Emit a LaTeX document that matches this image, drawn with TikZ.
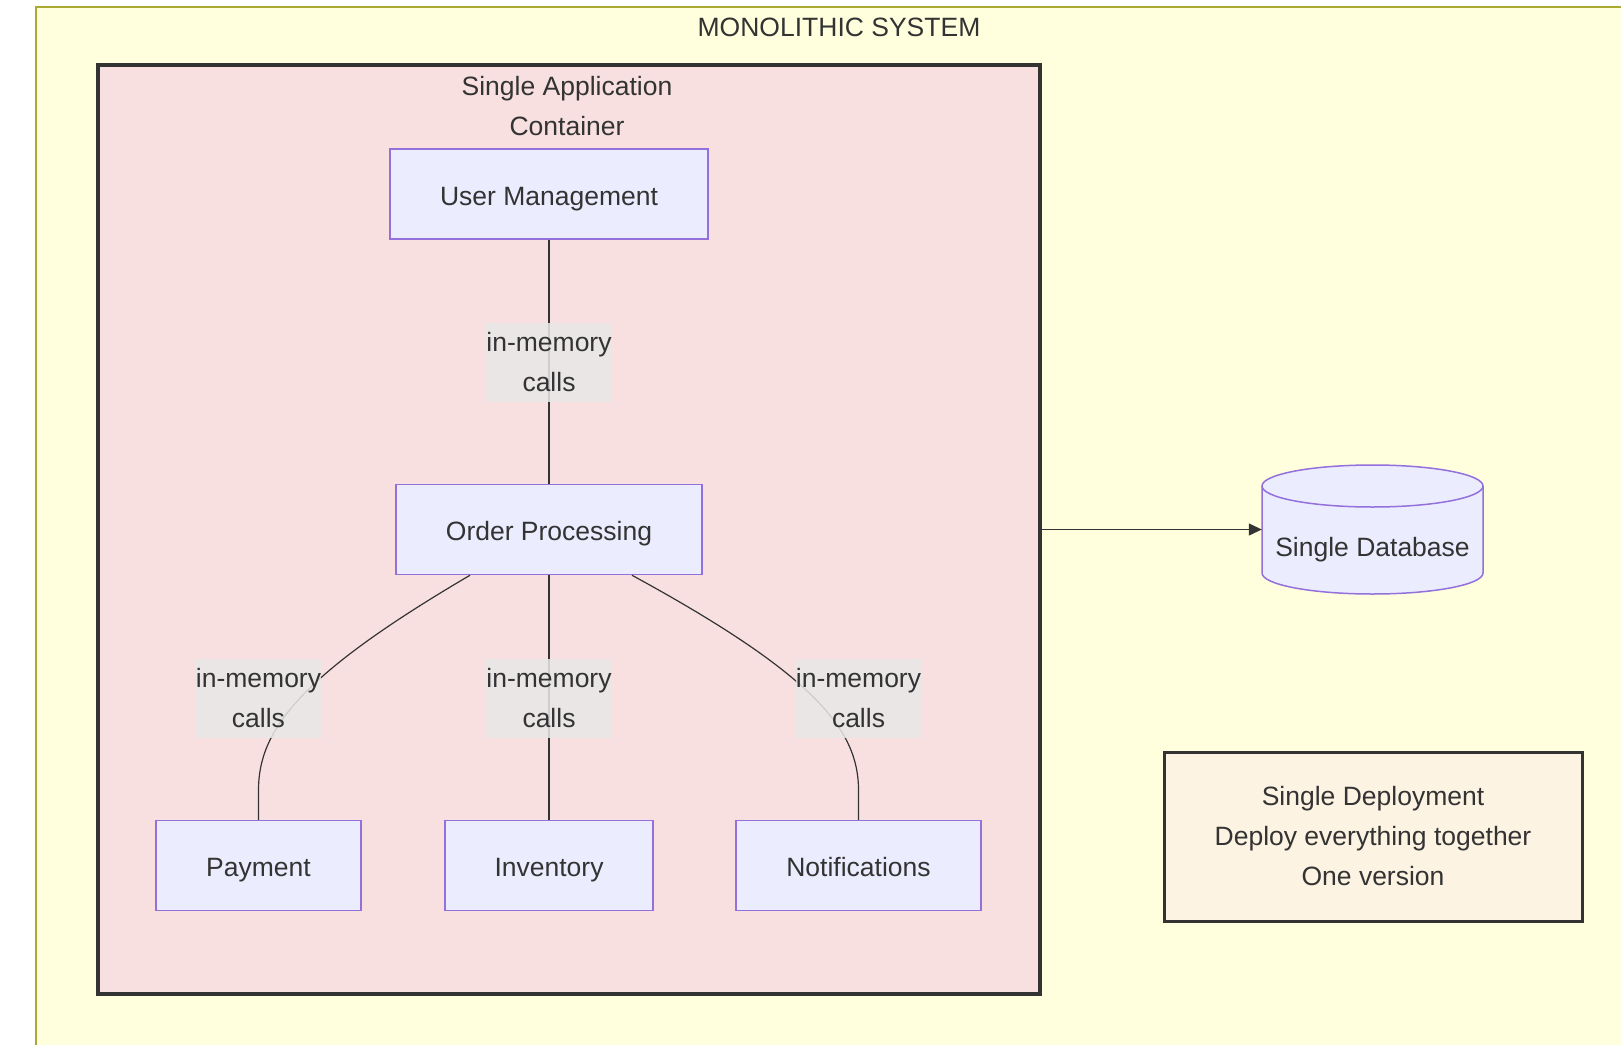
\documentclass[tikz,border=0pt]{standalone}
\usepackage{fontspec}
\setmainfont{Liberation Sans}
\usetikzlibrary{arrows.meta}
\definecolor{clusterfill}{HTML}{FFFFDE}
\definecolor{clusterline}{HTML}{AAAA33}
\definecolor{appfill}{HTML}{F8E0E0}
\definecolor{nodefill}{HTML}{ECECFF}
\definecolor{nodeline}{HTML}{9370DB}
\definecolor{ink}{HTML}{333333}
\definecolor{labelfill}{HTML}{E8E8E8}
\definecolor{notefill}{HTML}{FDF3E2}
\begin{document}
\begin{tikzpicture}[x=1pt,y=-1pt,
  every node/.style={text=ink, font=\fontsize{26.5}{40}\selectfont},
  module/.style={draw=nodeline, fill=nodefill, line width=1.5pt, inner sep=0pt, minimum height=90pt, text height=22pt, text depth=0pt},
  edgelabel/.style={fill=labelfill, fill opacity=0.85, text opacity=1, align=center, inner sep=0pt, minimum width=125pt, minimum height=79pt},
  link/.style={draw=ink, line width=1.2pt}
]
\useasboundingbox (0,0) rectangle (1621,1044);
\clip (0,0) rectangle (1621,1044);
\fill[white] (0,0) rectangle (1621,1044);

% outer system cluster
\draw[fill=clusterfill, draw=clusterline, line width=1.2pt] (36,7) rectangle (1660,1080);
\node (systitle) at (839,27) {MONOLITHIC SYSTEM};

% application container
\node[draw=ink, fill=appfill, line width=4pt, inner sep=0pt, minimum width=942pt, minimum height=929pt] (app) at (569,529.5) {};
\node[align=center] (apptitle) at (567,106) {Single Application\\Container};

% modules
\node[module, minimum width=318pt] (user) at (549,194) {User Management};
\node[module, minimum width=306pt] (order) at (549,529.5) {Order Processing};
\node[module, minimum width=205pt] (pay) at (258.5,865.5) {Payment};
\node[module, minimum width=208pt] (inv) at (549,865.5) {Inventory};
\node[module, minimum width=245pt] (notif) at (858.5,865.5) {Notifications};

% in-memory links
\draw[link] (user.south) -- (order.north);
\draw[link] (order.south) -- (inv.north);
\draw[link] ([xshift=-79pt]order.south) .. controls (300,675) and (258.5,730) .. (258.5,790) -- (pay.north);
\draw[link] ([xshift=83pt]order.south) .. controls (815,675) and (858.5,730) .. (858.5,790) -- (notif.north);

\node[edgelabel] (l1) at (549,362.5) {in-memory\\calls};
\node[edgelabel] (l2) at (258.5,698.5) {in-memory\\calls};
\node[edgelabel] (l3) at (549,698.5) {in-memory\\calls};
\node[edgelabel] (l4) at (858.5,698.5) {in-memory\\calls};

% database cylinder
\node[inner sep=0pt, minimum width=221pt, minimum height=129pt] (db) at (1372.5,529.5) {};
\draw[draw=nodeline, fill=nodefill, line width=1.5pt]
  (1262,486) -- (1262,573) arc[start angle=180, end angle=360, x radius=110.5pt, y radius=21pt]
  -- (1483,486) arc[start angle=0, end angle=180, x radius=110.5pt, y radius=21pt] -- cycle;
\draw[draw=nodeline, line width=1.5pt] (1262,486) arc[start angle=180, end angle=360, x radius=110.5pt, y radius=21pt];
\node (dbtext) at (1372.5,550) {Single Database};

\draw[link, -{Triangle[length=13pt,width=12pt]}] (app.east) -- (db.west);

% deployment note
\node[draw=ink, fill=notefill, line width=3pt, align=center, inner sep=0pt, minimum width=418pt, minimum height=169pt] (note) at (1373,836.5)
  {Single Deployment\\Deploy everything together\\One version};
\end{tikzpicture}
\end{document}
